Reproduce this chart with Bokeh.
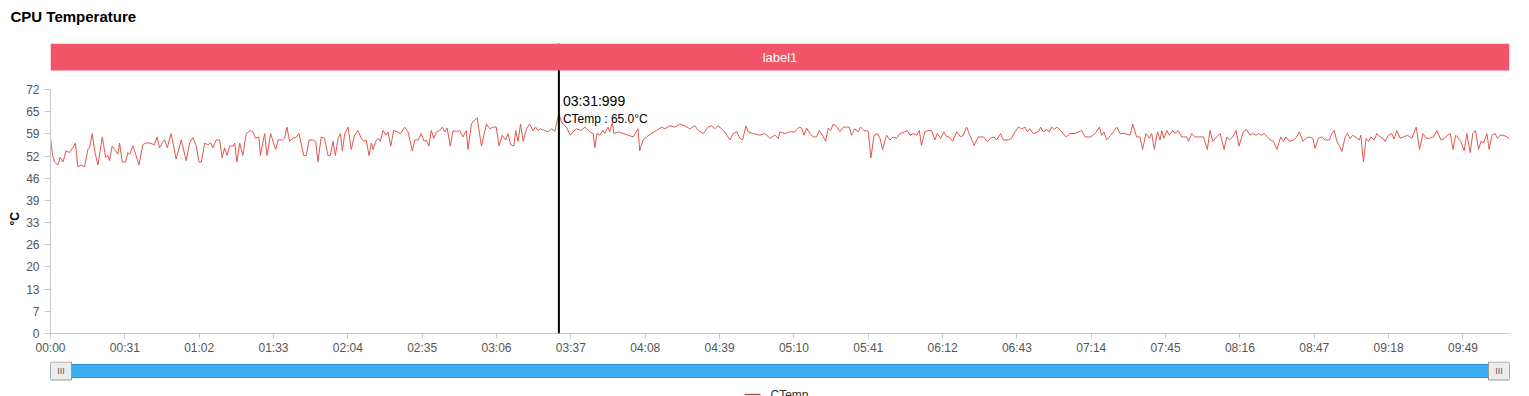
from bokeh.plotting import figure
from bokeh.models import Range1d, FixedTicker, NumeralTickFormatter, Span, BoxAnnotation, Label, Title
from bokeh.layouts import column
from bokeh.embed import file_html
from bokeh.resources import INLINE

# ---------------- data ----------------
title_text = "CPU Temperature"
series_name = "CTemp"
band_label = "label1"
unit_label = "°C"

times_s = [
    0.0, 0.9, 1.7, 3.1, 4.0, 5.2, 6.5, 7.9, 9.3, 10.4, 11.4, 12.8, 14.2, 15.6, 16.3, 17.4, 18.4, 19.8, 21.6, 23.0,
    23.9, 24.6, 25.7, 26.7, 28.1, 28.8, 29.9, 31.3, 32.3, 33.0, 34.4, 35.7, 36.9, 38.5, 39.6, 41.3, 43.4, 44.4, 45.5, 46.9,
    47.6, 48.7, 50.3, 52.4, 54.5, 56.6, 58.0, 59.4, 60.8, 61.9, 62.9, 64.3, 65.6, 66.8, 67.7, 69.1, 70.5, 71.6, 72.6, 73.6,
    74.7, 76.1, 76.8, 77.7, 78.9, 80.2, 81.6, 83.3, 84.4, 85.5, 86.9, 87.5, 89.3, 90.3, 91.8, 92.8, 93.9, 94.9, 96.7, 97.6,
    98.6, 99.7, 101.1, 102.5, 103.6,
    105.6, 106.7, 107.8, 109.4, 110.6, 111.5, 112.9, 114.3, 115.7, 116.7, 117.8, 118.8, 119.9, 120.9, 121.7, 122.7, 124.1, 125.4, 126.8, 128.2,
    129.6, 130.6, 131.7, 132.8, 133.8, 134.5, 135.6, 136.6, 137.5, 138.7, 139.8, 140.7, 141.9, 143.1, 144.5, 146.0, 147.7, 149.1, 150.9, 151.9,
    153.3, 154.6, 155.8, 156.7, 157.8, 158.8, 159.8, 160.9, 162.3, 163.4, 164.4, 165.4, 166.7, 167.9, 169.3, 170.6, 172.0, 173.4, 174.1, 175.5,
    176.5, 177.9, 179.7, 181.8, 183.2, 184.5, 185.9, 187.0, 188.4, 189.8, 190.8, 191.9, 193.2, 194.0, 195.0, 196.0, 197.1, 198.5, 199.8, 201.2,
    202.3, 203.3, 204.3, 206.1, 207.5,
    208.9, 210.3, 212.0, 213.1, 215.1, 216.8, 217.9, 219.3, 221.4, 222.8, 224.9, 226.3, 227.0, 227.9, 229.0, 230.4, 231.1, 232.5, 233.2, 234.3,
    234.9, 236.7, 238.8, 240.9, 243.0, 245.0, 245.7, 247.1, 248.5, 250.6, 252.7, 254.8, 256.2, 258.3, 260.3, 262.4, 264.5, 266.6, 268.7, 270.1,
    272.2, 274.2, 275.6, 277.0, 278.4, 279.8, 281.2, 283.3, 284.7, 286.1, 287.5, 288.6, 290.0, 290.9, 293.0, 295.8, 297.9, 300.0, 302.1, 303.5,
    304.1, 306.2, 308.3, 310.4, 312.2,
    313.2, 314.2, 315.3, 316.7, 318.0, 319.4, 320.6, 321.9, 323.2, 324.3, 325.3, 326.4, 327.8, 329.2, 330.6, 332.0, 333.1, 334.0, 335.4, 336.8,
    337.8, 339.2, 341.0, 342.1, 343.4, 344.8, 345.9, 347.0, 348.6, 350.0, 351.4, 352.8, 354.2, 356.3, 357.3, 358.4, 359.8, 361.2, 362.3, 363.2,
    364.6, 366.0, 367.4, 368.8, 369.8, 371.2, 372.6, 373.7, 374.8, 376.2, 377.9, 379.5, 380.6, 382.0, 383.4, 385.1, 386.9, 389.0, 390.6, 392.0,
    393.4, 394.5, 396.2, 397.3, 399.4, 400.8, 402.2, 403.6, 405.0, 406.4, 407.3, 408.4, 409.8, 411.9, 412.9, 414.0, 415.4, 416.5,
    417.5, 418.5, 419.8, 421.7, 423.5, 425.1, 427.2, 430.0, 431.4, 433.8, 435.6, 437.4, 438.3, 439.3, 440.4, 442.1, 443.2, 444.6, 446.0, 448.1,
    450.2, 451.3, 452.9, 454.3, 455.4, 456.8, 458.2, 459.2, 460.3, 461.6, 462.7, 463.4, 464.3, 465.5, 466.6, 468.0, 468.9, 470.3, 471.7, 473.8,
    474.5, 475.9, 477.3, 479.1, 480.8, 482.4, 483.5, 484.7, 486.3, 487.7, 489.4, 490.5, 491.6, 493.0, 494.4, 495.6, 497.4, 498.8, 500.2, 501.3,
    502.7, 503.7, 505.1, 506.1, 508.6, 510.0, 511.4, 513.0, 514.1, 515.2, 516.6, 518.3, 519.7, 520.8,
    522.2, 523.6, 525.0, 526.4, 527.3, 528.7, 530.1, 531.5, 533.3, 534.3, 535.3, 536.4, 537.5, 538.5, 539.9, 540.8, 541.9, 543.1, 544.5, 545.8,
    546.4, 547.5, 548.6, 549.6, 550.6, 552.0, 553.1, 554.5, 555.6, 556.5, 557.9, 559.3, 560.3, 561.4, 562.8, 564.2, 565.9, 567.7, 569.5, 570.9,
    572.3, 573.7, 575.0, 576.7, 578.1, 579.8, 581.2, 582.6, 583.7, 584.8, 586.0, 587.1, 588.1, 589.5, 590.6, 592.0, 593.1, 594.2, 595.5, 596.5,
    597.6, 599.0, 599.9, 601.1, 602.4, 603.4, 604.5, 605.9, 607.3, 608.4,
]

temp_c = [
    57.6, 52.5, 50.6, 49.7, 52.0, 50.6, 53.9, 53.4, 54.8, 56.2, 49.2, 49.7, 49.2, 54.3, 54.8, 59.0, 53.9, 49.7, 58.0, 52.0,
    52.5, 51.0, 55.3, 54.3, 52.9, 56.2, 50.6, 50.6, 53.4, 52.9, 55.3, 52.5, 49.7, 55.7, 56.2, 56.2, 55.7, 58.0, 54.8, 56.7,
    57.1, 54.8, 59.0, 51.5, 57.1, 51.0, 56.2, 57.8, 55.3, 50.6, 50.6, 56.2, 55.7, 56.2, 54.8, 57.1, 57.1, 51.8, 54.8, 52.5,
    55.3, 55.3, 56.2, 50.6, 56.2, 52.5, 59.0, 59.9, 59.5, 57.6, 58.0, 52.5, 59.0, 52.5, 59.0, 56.7, 54.3, 57.1, 57.1, 57.6,
    60.9, 56.7, 57.6, 58.0, 59.0,
    52.5, 52.5, 57.1, 57.1, 56.7, 50.6, 58.0, 57.6, 52.5, 52.5, 56.7, 52.5, 57.6, 59.0, 53.9, 59.0, 60.9, 54.3, 58.5, 59.9,
    57.6, 56.7, 57.1, 52.5, 56.2, 54.3, 56.7, 57.6, 56.7, 59.9, 58.5, 59.5, 55.3, 59.9, 59.5, 59.0, 60.9, 59.5, 53.9, 57.1,
    57.1, 59.0, 56.7, 57.1, 55.3, 59.9, 57.6, 59.5, 59.9, 60.9, 59.5, 60.6, 55.3, 59.9, 59.5, 59.9, 58.0, 59.9, 54.3, 61.8,
    62.7, 63.7, 55.3, 61.8, 60.4, 60.9, 60.9, 55.3, 58.5, 57.1, 59.0, 55.7, 55.3, 59.9, 56.7, 61.8, 56.7, 60.4, 61.8, 59.9,
    60.9, 59.9, 60.4, 59.9, 59.5,
    60.4, 59.7, 65.0, 62.3, 60.9, 58.5, 59.5, 60.4, 59.9, 60.9, 59.5, 59.0, 54.8, 59.0, 58.5, 59.9, 59.0, 60.9, 59.5, 62.3,
    59.0, 59.5, 59.0, 58.5, 58.0, 60.4, 53.9, 57.1, 58.0, 59.0, 59.9, 60.9, 60.4, 61.3, 60.9, 61.8, 61.3, 60.4, 61.3, 59.9,
    59.0, 60.9, 61.3, 60.4, 61.3, 60.4, 59.5, 57.1, 59.0, 59.5, 57.6, 57.1, 61.3, 59.5, 59.0, 58.5, 59.0, 57.6, 58.5, 57.6,
    59.5, 59.0, 59.5, 59.5, 60.9,
    60.6, 58.5, 60.6, 59.0, 58.0, 58.0, 59.9, 58.5, 56.7, 60.6, 59.9, 61.8, 61.1, 59.5, 60.9, 60.9, 60.9, 58.5, 60.4, 59.5,
    60.9, 59.9, 59.7, 51.8, 58.5, 59.0, 57.6, 54.3, 58.5, 57.1, 58.0, 57.6, 59.0, 59.5, 59.9, 58.5, 59.0, 58.5, 59.9, 55.5,
    59.5, 59.9, 59.9, 57.1, 59.0, 57.6, 59.5, 58.0, 58.0, 56.7, 59.5, 58.0, 58.5, 60.9, 58.5, 55.5, 58.0, 58.0, 56.7, 57.6,
    58.0, 57.1, 59.0, 57.1, 57.1, 57.6, 59.5, 60.9, 60.4, 60.9, 59.5, 60.4, 59.0, 59.5, 60.9, 59.5, 60.2, 59.5,
    60.9, 60.2, 60.9, 59.5, 58.0, 59.0, 59.0, 59.9, 58.0, 58.0, 59.0, 60.9, 58.5, 59.5, 57.1, 58.5, 59.5, 60.9, 59.0, 59.0,
    58.5, 61.8, 58.0, 58.0, 54.3, 59.0, 57.6, 59.0, 54.3, 59.5, 57.1, 59.9, 57.6, 59.9, 58.5, 59.9, 59.0, 59.9, 58.0, 58.0,
    56.7, 59.0, 58.0, 58.0, 58.0, 54.3, 59.9, 56.7, 58.0, 59.0, 54.3, 58.0, 57.1, 58.0, 59.9, 55.3, 59.5, 60.2, 58.5, 59.0,
    58.5, 59.0, 58.5, 59.0, 57.1, 56.7, 54.3, 58.0, 56.7, 58.0, 56.7, 57.1, 58.0, 59.5,
    56.7, 57.6, 58.0, 57.6, 54.6, 57.6, 58.0, 57.1, 57.1, 59.0, 59.9, 56.7, 55.3, 53.7, 58.0, 59.0, 57.6, 58.5, 57.8, 57.1,
    58.5, 50.6, 57.6, 56.7, 58.0, 57.1, 59.0, 58.0, 57.6, 56.7, 58.5, 59.0, 57.4, 59.9, 57.6, 58.0, 58.5, 57.6, 60.9, 54.3,
    59.0, 57.6, 57.6, 58.0, 59.9, 57.1, 57.6, 58.5, 59.0, 54.3, 58.5, 57.6, 56.7, 53.9, 59.0, 53.4, 59.0, 59.9, 54.3, 56.7,
    56.2, 59.0, 54.3, 58.5, 59.0, 57.6, 58.5, 58.5, 58.0, 57.6,
]

y_axis_max = 72
y_tick_count = 12
x_tick_step_s = 31
x_tick_labels = ["00:00", "00:31", "01:02", "01:33", "02:04", "02:35", "03:06", "03:37", "04:08", "04:39",
                 "05:10", "05:41", "06:12", "06:43", "07:14", "07:45", "08:16", "08:47", "09:18", "09:49"]
cursor_time_s = 211.999
cursor_time_label = "03:31:999"
cursor_value = 65.0

# ---------------- layout / style ----------------
FONT = "Liberation Sans"
W = 1529
LEFT, RIGHT = 50, 20
HEAD_H = 35               # header strip holding the chart title
TOP, FRAME_H, BOTTOM = 8, 290, 27
GAP_TO_MAX = 46           # px from frame top down to the y-axis maximum
BAND_H = 27               # px height of the red band
UNIT_LABEL_OFFSET = 108   # px from frame bottom to the start of the unit label
LINE_COLOR = "#e0574f"
AXIS_COLOR = "#c3c8d0"
LABEL_COLOR = "#555555"

y_end = y_axis_max * FRAME_H / (FRAME_H - GAP_TO_MAX)
band_bottom = y_end * (FRAME_H - BAND_H) / FRAME_H
x0, x1 = times_s[0], times_s[-1]
s_per_px = (x1 - x0) / (W - LEFT - RIGHT)

# ---------------- header (title) ----------------
ph = figure(width=W, height=HEAD_H, x_range=Range1d(0, W), y_range=Range1d(0, HEAD_H),
            output_backend="svg", toolbar_location=None, x_axis_location=None, y_axis_location=None,
            min_border=0)
if "frame_align" in ph.properties():
    ph.frame_align = False
ph.title.visible = False
ph.xgrid.grid_line_color = None
ph.ygrid.grid_line_color = None
ph.outline_line_color = None
ph.add_layout(Label(x=10, y=HEAD_H - 16, text=title_text, text_align="left", text_baseline="middle",
                    text_font=FONT, text_font_size="15px", text_font_style="bold", text_color="black"))

# ---------------- main chart ----------------
p = figure(width=W, height=TOP + FRAME_H + BOTTOM,
           x_range=Range1d(x0, x1), y_range=Range1d(0, y_end),
           output_backend="svg", toolbar_location=None,
           min_border_left=LEFT, min_border_right=RIGHT,
           min_border_top=TOP, min_border_bottom=BOTTOM)
p.title.visible = False
p.outline_line_color = None
p.xgrid.grid_line_color = None
p.ygrid.grid_line_color = None

yax = p.yaxis[0]
yax.ticker = FixedTicker(ticks=[y_axis_max * i / (y_tick_count - 1) for i in range(y_tick_count)])
yax.formatter = NumeralTickFormatter(format="0")
yax.bounds = (0, y_axis_max)
yax.axis_line_color = AXIS_COLOR
yax.major_tick_line_color = AXIS_COLOR
yax.minor_tick_line_color = None
yax.major_tick_in = 0
yax.major_tick_out = 6
yax.major_label_standoff = 5
yax.major_label_text_font = FONT
yax.major_label_text_font_size = "12px"
yax.major_label_text_color = LABEL_COLOR

# unit label on the left side, centred on the 0..72 part of the axis
p.add_layout(Title(text=unit_label, align="left", offset=UNIT_LABEL_OFFSET, standoff=4,
                   text_font=FONT, text_font_size="12px", text_font_style="bold", text_color="black"),
             "left")

x_ticks = [i * x_tick_step_s for i in range(len(x_tick_labels))]
xax = p.xaxis[0]
xax.ticker = FixedTicker(ticks=x_ticks)
xax.major_label_overrides = {t: lab for t, lab in zip(x_ticks, x_tick_labels)}
xax.axis_line_color = AXIS_COLOR
xax.major_tick_line_color = AXIS_COLOR
xax.minor_tick_line_color = None
xax.major_tick_in = 0
xax.major_tick_out = 5
xax.major_label_standoff = 2
xax.major_label_text_font = FONT
xax.major_label_text_font_size = "12px"
xax.major_label_text_color = LABEL_COLOR

p.line(times_s, temp_c, line_color=LINE_COLOR, line_width=1)

# cursor line (drawn first so the band covers its top)
p.add_layout(Span(location=cursor_time_s, dimension="height", line_color="black", line_width=2))
p.add_layout(BoxAnnotation(bottom=band_bottom, fill_color="#f05468", fill_alpha=1.0, line_color=None))
p.add_layout(Label(x=(x0 + x1) / 2, y=(band_bottom + y_end) / 2, text=band_label, text_align="center",
                   text_baseline="middle", text_color="white", text_font=FONT, text_font_size="13px"))

p.add_layout(Label(x=cursor_time_s, y=cursor_value, x_offset=4, y_offset=12, text=cursor_time_label,
                   text_align="left", text_baseline="middle", text_font=FONT, text_font_size="14px",
                   text_color="black"))
p.add_layout(Label(x=cursor_time_s, y=cursor_value, x_offset=4, y_offset=-6,
                   text=f"{series_name} : {cursor_value:.1f}{unit_label}",
                   text_align="left", text_baseline="middle", text_font=FONT, text_font_size="12px",
                   text_color="black"))

# ---------------- range slider strip + legend ----------------
S_TOP, S_FRAME = 1, 35          # strip frame runs to the bottom of the window (px units, y up)
HANDLE_BOTTOM, HANDLE_TOP = 16, 35
BAR_BOTTOM, BAR_TOP = 19, 32
LEGEND_Y = 2
LEGEND_LINE_PX = (744, 760)
LEGEND_TEXT_PX = 770
HANDLE_W = 21
hw = HANDLE_W * s_per_px

def px_to_x(px):
    return x0 + (px - LEFT) * s_per_px

p2 = figure(width=W, height=S_TOP + S_FRAME, x_range=p.x_range, y_range=Range1d(0, S_FRAME),
            output_backend="svg", toolbar_location=None, x_axis_location=None, y_axis_location=None,
            min_border_left=LEFT, min_border_right=RIGHT, min_border_top=S_TOP, min_border_bottom=0)
p2.title.visible = False
p2.xgrid.grid_line_color = None
p2.ygrid.grid_line_color = None
p2.outline_line_color = None

p2.quad(left=[x0], right=[x1], bottom=[BAR_BOTTOM], top=[BAR_TOP],
        fill_color="#3eaef2", line_color="#2f8fd0", line_width=1)
p2.quad(left=[x0, x1 - hw], right=[x0 + hw, x1], bottom=[HANDLE_BOTTOM + 0.5] * 2, top=[HANDLE_TOP - 0.5] * 2,
        fill_color="#ececec", line_color="#9a9a9a", line_width=1)
p2.text(x=[x0 + hw / 2, x1 - hw / 2], y=[(HANDLE_BOTTOM + HANDLE_TOP) / 2] * 2, text=["III", "III"],
        text_align="center", text_baseline="middle", text_font_size="9px", text_color="#555555")

# legend (partly below the window edge, as in the reference)
p2.segment(x0=[px_to_x(LEGEND_LINE_PX[0])], x1=[px_to_x(LEGEND_LINE_PX[1])], y0=[LEGEND_Y], y1=[LEGEND_Y],
           line_color="#c0504d", line_width=1.5)
p2.add_layout(Label(x=px_to_x(LEGEND_TEXT_PX), y=LEGEND_Y, text=series_name, text_align="left",
                    text_baseline="middle", text_font=FONT, text_font_size="12px", text_color="#333333"))

layout = column(ph, p, p2, spacing=0)
open("out.html", "w").write(file_html(layout, INLINE))
